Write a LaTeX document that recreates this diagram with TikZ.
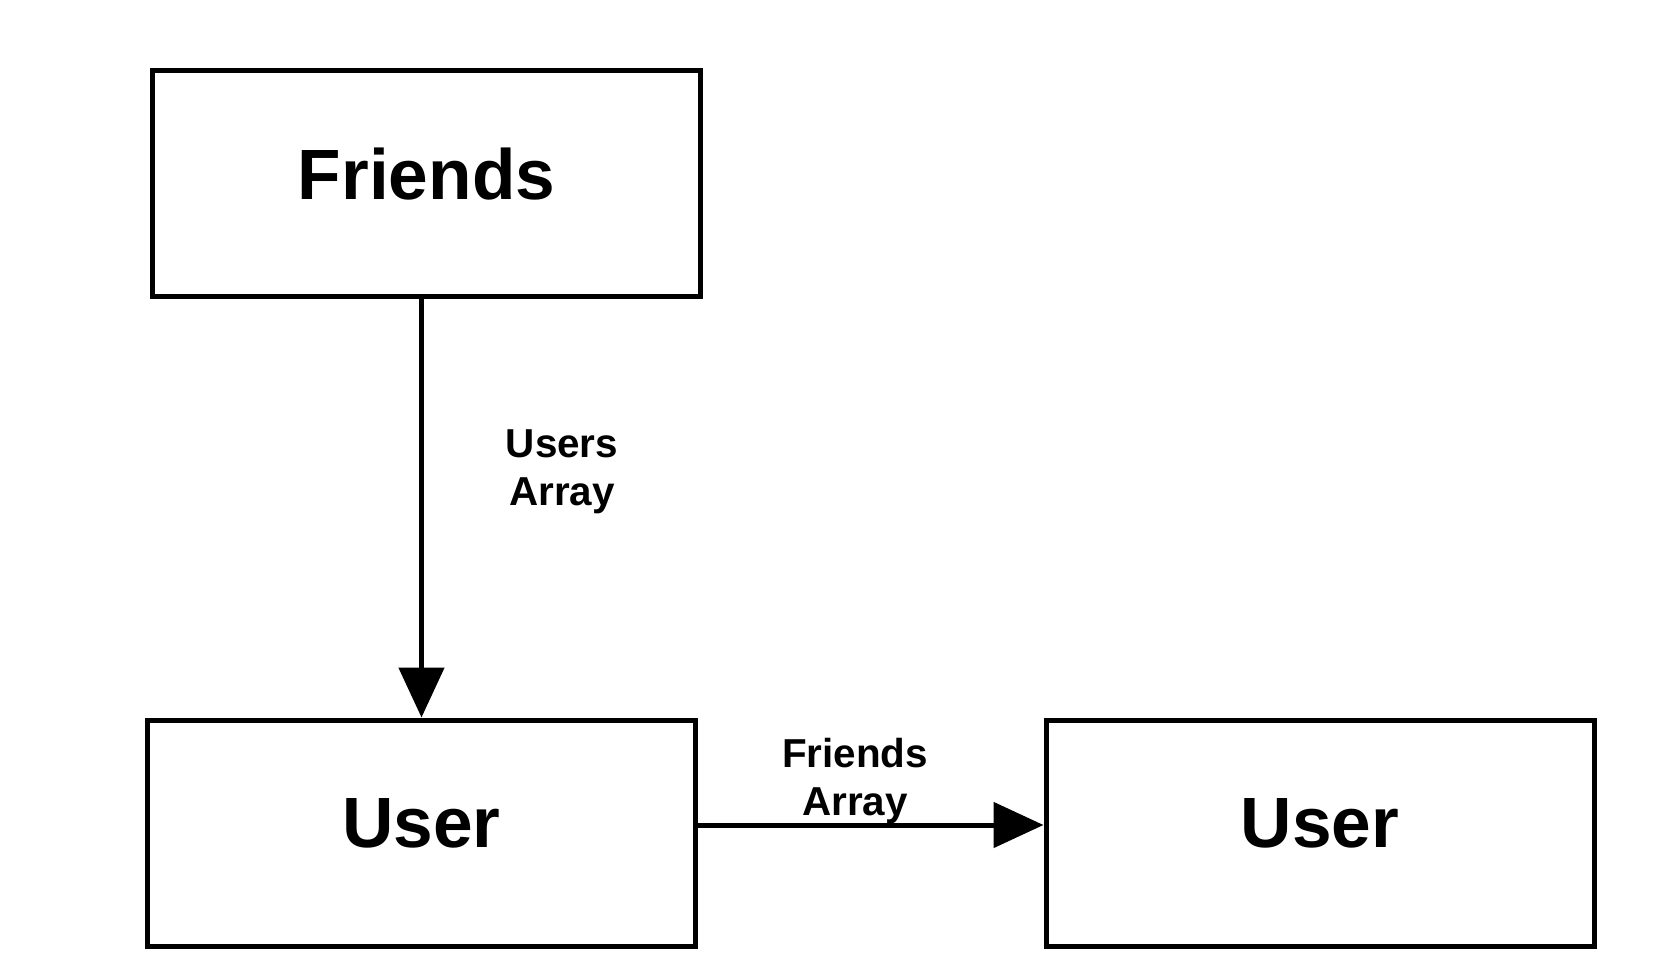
\documentclass[tikz,border=0pt]{standalone}
\usepackage{fontspec}
\setmainfont{Liberation Sans}
\usetikzlibrary{arrows.meta,calc}
\tikzset{
  box/.style={draw, line width=2.5pt, rectangle, minimum width=274pt, minimum height=113pt,
    inner sep=0pt, text depth=10pt, font=\fontsize{35.6}{42}\selectfont\bfseries},
  lbl/.style={align=center, inner sep=0pt, font=\fontsize{20.2}{24}\selectfont\bfseries},
  conn/.style={line width=2.5pt, -{Triangle[length=25pt,width=22.5pt]}}
}
\begin{document}
\begin{tikzpicture}[x=0.5pt,y=-0.5pt]
\useasboundingbox (0,0) rectangle (1672,974);
\node[box] (f) at (426.5,183.5) {Friends};
\node[box] (u1) at (421.5,833) {User};
\node[box] (u2) at (1320,833) {User};
\draw[conn] (f.south -| u1.north) -- (u1.north);
\coordinate (a) at ($(u1.east)+(0,-8)$);
\draw[conn] (a) -- (a -| u2.west);
\node[lbl] (l1) at (562,472) {Users\\Array};
\node[lbl] (l2) at (855,781) {Friends\\Array};
\end{tikzpicture}
\end{document}
